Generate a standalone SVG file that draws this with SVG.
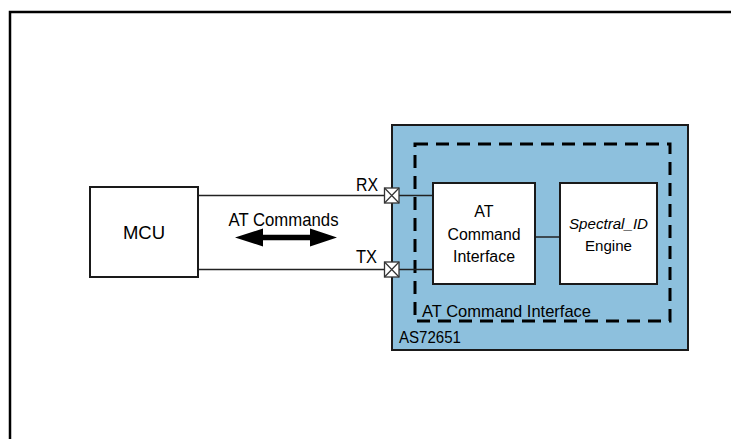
<svg xmlns="http://www.w3.org/2000/svg" width="731" height="439" viewBox="0 0 731 439">
<style>
.box{fill:#fff;stroke:#1a1a1a;stroke-width:2}
.wire{stroke:#222;stroke-width:1.5;fill:none}
.port{fill:#fff;stroke:#333;stroke-width:1.3}
.t{font-family:"Liberation Sans",Arial,sans-serif;fill:#000}
</style>
<rect width="731" height="439" fill="#fff"/>
<path d="M10 439 V12 H731" fill="none" stroke="#000" stroke-width="2.5"/>
<g id="as72651">
<rect x="392" y="125" width="296" height="225" fill="#8DC0DD" stroke="#1a1a1a" stroke-width="2"/>
<text class="t" x="399" y="342.5" font-size="17" textLength="62" lengthAdjust="spacingAndGlyphs">AS72651</text>
</g>
<g id="at-group">
<rect x="415" y="144" width="255" height="177" fill="none" stroke="#000" stroke-width="3" stroke-dasharray="13 8"/>
<text class="t" x="422" y="316.5" font-size="17" textLength="169" lengthAdjust="spacingAndGlyphs">AT Command Interface</text>
</g>
<g id="connectors">
<line class="wire" x1="198" y1="195.5" x2="384" y2="195.5"/>
<line class="wire" x1="198" y1="269.5" x2="384" y2="269.5"/>
<line class="wire" x1="399" y1="195.5" x2="433" y2="195.5"/>
<line class="wire" x1="399" y1="269.5" x2="433" y2="269.5"/>
<line class="wire" x1="535" y1="237" x2="560" y2="237"/>
<polygon points="235,237.5 263,228.5 263,234.7 310,234.7 310,228.5 337,237.5 310,246.5 310,240.3 263,240.3 263,246.5" fill="#000"/>
<text class="t" x="228.5" y="225.5" font-size="18.5" textLength="110" lengthAdjust="spacingAndGlyphs">AT Commands</text>
</g>
<g id="mcu">
<rect class="box" x="90" y="187" width="108" height="90"/>
<text class="t" x="144" y="238.5" font-size="18.5" text-anchor="middle">MCU</text>
</g>
<g id="port-rx">
<rect class="port" x="384.5" y="188" width="14.5" height="15"/>
<path d="M384.5 188 L399 203 M399 188 L384.5 203" stroke="#333" stroke-width="1.2"/>
<text class="t" x="356" y="191" font-size="18" textLength="22" lengthAdjust="spacingAndGlyphs">RX</text>
</g>
<g id="port-tx">
<rect class="port" x="384.5" y="262" width="14.5" height="15"/>
<path d="M384.5 262 L399 277 M399 262 L384.5 277" stroke="#333" stroke-width="1.2"/>
<text class="t" x="356" y="263" font-size="18" textLength="21" lengthAdjust="spacingAndGlyphs">TX</text>
</g>
<g id="at-command-interface">
<rect class="box" x="433" y="183" width="102" height="101"/>
<text class="t" x="484" y="217" font-size="16" text-anchor="middle">AT</text>
<text class="t" x="484" y="239.5" font-size="16" text-anchor="middle" textLength="73" lengthAdjust="spacingAndGlyphs">Command</text>
<text class="t" x="484" y="262" font-size="16" text-anchor="middle" textLength="62" lengthAdjust="spacingAndGlyphs">Interface</text>
</g>
<g id="spectral-engine">
<rect class="box" x="560" y="183" width="97" height="101"/>
<text class="t" x="608.5" y="228.5" font-size="15.5" font-style="italic" text-anchor="middle" textLength="79" lengthAdjust="spacingAndGlyphs">Spectral_ID</text>
<text class="t" x="608.5" y="250.5" font-size="15.5" text-anchor="middle" textLength="47" lengthAdjust="spacingAndGlyphs">Engine</text>
</g>
</svg>
